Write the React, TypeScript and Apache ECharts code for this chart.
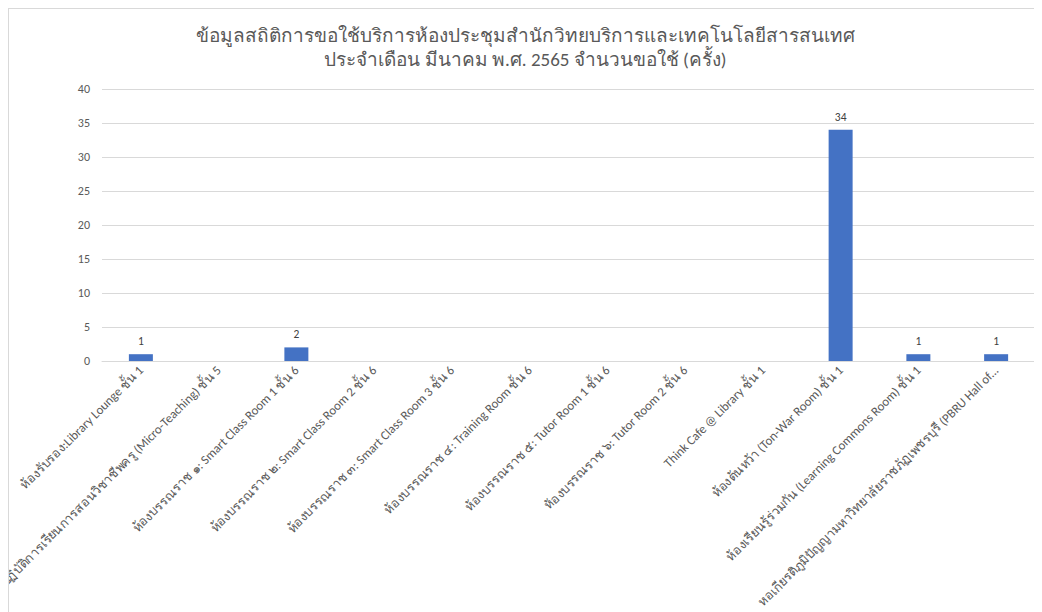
import React, { useEffect, useRef } from "react";
import * as echarts from "echarts";

const titleLines = [
  "ข้อมูลสถิติการขอใช้บริการห้องประชุมสำนักวิทยบริการและเทคโนโลยีสารสนเทศ",
  "ประจำเดือน มีนาคม พ.ศ. 2565 จำนวนขอใช้ (ครั้ง)",
];

const categories = [
  "ห้องรับรอง:Library Lounge ชั้น 1",
  "ห้องปฏิบัติการเรียนการสอนวิชาชีพครู (Micro-Teaching) ชั้น 5",
  "ห้องบรรณราช ๑: Smart Class Room 1 ชั้น 6",
  "ห้องบรรณราช ๒: Smart Class Room 2 ชั้น 6",
  "ห้องบรรณราช ๓: Smart Class Room 3 ชั้น 6",
  "ห้องบรรณราช ๔: Training Room ชั้น 6",
  "ห้องบรรณราช ๕: Tutor Room 1 ชั้น 6",
  "ห้องบรรณราช ๖: Tutor Room 2 ชั้น 6",
  "Think Cafe @ Library ชั้น 1",
  "ห้องต้นหว้า (Ton-War Room) ชั้น 1",
  "ห้องเรียนรู้ร่วมกัน (Learning Commons Room) ชั้น 1",
  "หอเกียรติภูมิปัญญามหาวิทยาลัยราชภัฏเพชรบุรี (PBRU Hall of...",
];

const values = [1, 0, 2, 0, 0, 0, 0, 0, 0, 34, 1, 1];

const yMin = 0;
const yMax = 40;
const yInterval = 5;

export default function App() {
  const ref = useRef<HTMLDivElement>(null);
  useEffect(() => {
    if (!ref.current) return;
    const chart = echarts.init(ref.current, null, { renderer: "svg" });
    const font = "Calibri, 'Noto Sans', 'Open Sans', sans-serif";
    chart.setOption({
      animation: false,
      textStyle: { fontFamily: font },
      title: {
        text: titleLines.join("\n"),
        left: "center",
        top: 9,
        textStyle: {
          fontFamily: font,
          fontSize: 19,
          fontWeight: "normal",
          color: "#595959",
          lineHeight: 24,
        },
      },
      grid: {
        left: 93,
        right: 7,
        top: 80,
        bottom: 251,
        containLabel: false,
        outerBoundsMode: "none",
      },
      xAxis: {
        type: "category",
        data: categories,
        axisLine: { lineStyle: { color: "#d9d9d9" } },
        axisTick: { show: false },
        axisLabel: {
          rotate: 45,
          interval: 0,
          fontSize: 12.8,
          color: "#595959",
          margin: 7,
          fontFamily: font,
          hideOverlap: false,
        },
      },
      yAxis: {
        type: "value",
        min: yMin,
        max: yMax,
        interval: yInterval,
        axisLine: { show: false },
        axisTick: { show: false },
        splitLine: { lineStyle: { color: "#d9d9d9" } },
        axisLabel: { fontSize: 12, color: "#595959", margin: 12, fontFamily: font },
      },
      series: [
        {
          type: "bar",
          data: values,
          barWidth: 24,
          itemStyle: { color: "#4472c4" },
          label: {
            show: true,
            position: "top",
            fontSize: 11.5,
            color: "#404040",
            distance: 7,
            formatter: (p: any) => (p.value === 0 ? "" : String(p.value)),
          },
        },
      ],
    });
    return () => chart.dispose();
  }, []);
  return (
    <div
      ref={ref}
      style={{
        width: 1034,
        height: 604,
        borderLeft: "1px solid #d9d9d9",
        borderTop: "1px solid #d9d9d9",
        boxSizing: "border-box",
        background: "#fff",
      }}
    />
  );
}
